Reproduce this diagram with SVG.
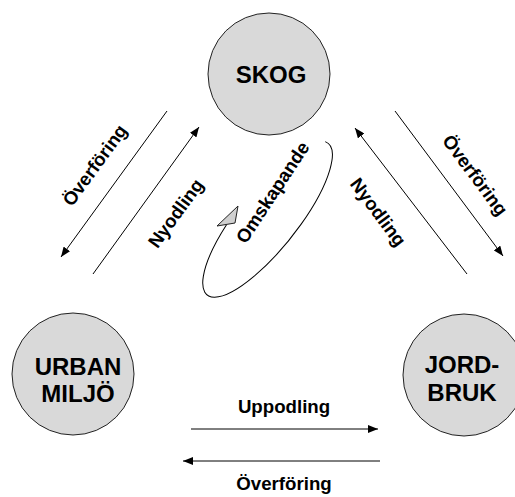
<svg xmlns="http://www.w3.org/2000/svg" width="515" height="497" viewBox="0 0 515 497">
<style>
.node{fill:#d9d9d9;stroke:#222;stroke-width:1}
.nt{font-family:"Liberation Sans",Arial,sans-serif;font-weight:bold;font-size:24px;fill:#000;text-anchor:middle}
.lbl{font-family:"Liberation Sans",Arial,sans-serif;font-weight:bold;font-size:18.67px;fill:#000;text-anchor:middle}
.ln{stroke:#000;stroke-width:1;fill:none}
</style>
<defs>
<marker id="ah" viewBox="0 0 10 8" refX="10" refY="4" markerWidth="10" markerHeight="8" markerUnits="userSpaceOnUse" orient="auto">
<path d="M0,0 L10,4 L0,8 z" fill="#000"/>
</marker>
</defs>
<rect width="515" height="497" fill="#fff"/>
<g id="skog">
<circle class="node" cx="269" cy="74" r="61"/>
<text class="nt" x="271" y="83">SKOG</text>
</g>
<g id="urban">
<circle class="node" cx="73" cy="374" r="61"/>
<text class="nt" x="78" y="375">URBAN</text>
<text class="nt" x="78" y="402">MILJÖ</text>
</g>
<g id="jordbruk">
<circle class="node" cx="464" cy="375" r="61"/>
<text class="nt" x="462" y="373">JORD-</text>
<text class="nt" x="462" y="401">BRUK</text>
</g>
<g id="connectors">
<line class="ln" x1="167" y1="111" x2="61" y2="257" marker-end="url(#ah)"/>
<line class="ln" x1="93" y1="274" x2="199" y2="127" marker-end="url(#ah)"/>
<line class="ln" x1="395" y1="111" x2="503" y2="256" marker-end="url(#ah)"/>
<line class="ln" x1="467" y1="274" x2="355" y2="128" marker-end="url(#ah)"/>
<line class="ln" x1="191" y1="429" x2="378" y2="429" marker-end="url(#ah)"/>
<line class="ln" x1="380" y1="461" x2="183" y2="461" marker-end="url(#ah)"/>
<path class="ln" transform="translate(267.5,219) rotate(-51.5)" d="M96.5,-3 A97,30 0 1 1 -30,-28.5"/>
<polygon points="238,206 217,226 235,223" fill="#d0d0d0" stroke="#222" stroke-width="1"/>
</g>
<g id="labels">
<text class="lbl" transform="translate(100,169) rotate(-54)">Överföring</text>
<text class="lbl" transform="translate(181,217) rotate(-54)">Nyodling</text>
<text class="lbl" transform="translate(470,179) rotate(53.3)">Överföring</text>
<text class="lbl" transform="translate(373,216) rotate(53.3)">Nyodling</text>
<text class="lbl" transform="translate(278,196) rotate(-56.5)">Omskapande</text>
<text class="lbl" x="284" y="413">Uppodling</text>
<text class="lbl" x="284" y="490">Överföring</text>
</g>
</svg>
